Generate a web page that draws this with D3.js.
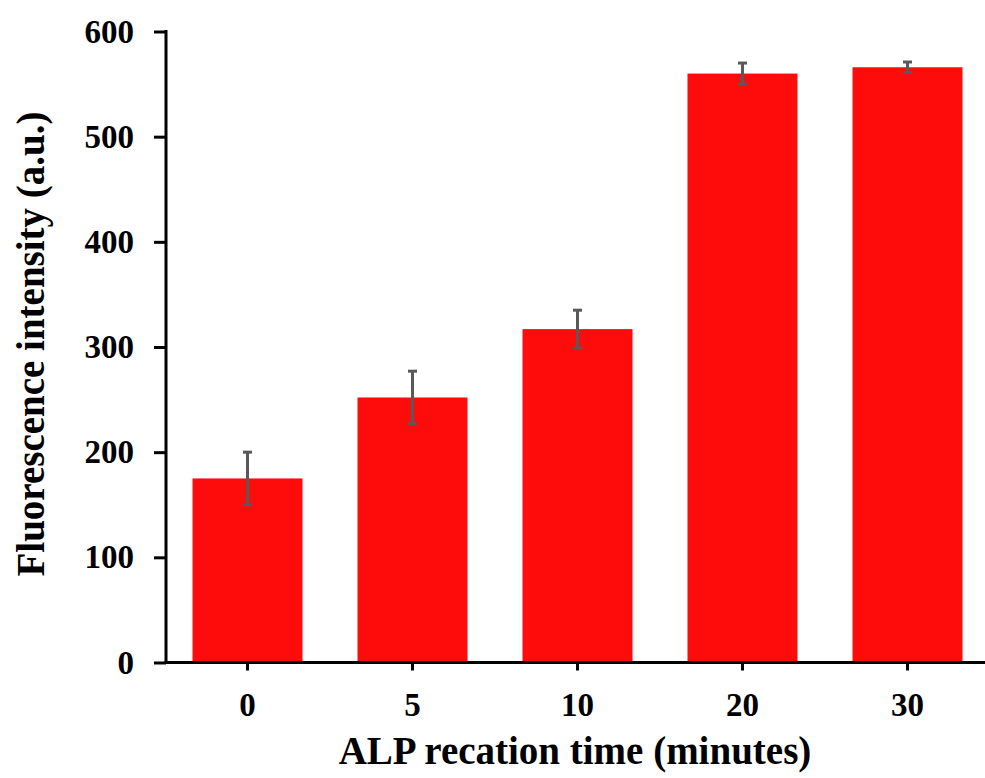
<!DOCTYPE html>
<html>
<head>
<meta charset="utf-8">
<script src="https://cdn.jsdelivr.net/npm/d3@7"></script>
<style>
  html, body { margin: 0; padding: 0; background: #fff; }
  svg { display: block; }
  .axis text { font-family: "Liberation Serif", "Times New Roman", serif; font-weight: bold; font-size: 33px; fill: #000; }
  .title { font-family: "Liberation Serif", "Times New Roman", serif; font-weight: bold; font-size: 39px; fill: #000; }
</style>
</head>
<body>
<svg id="chart" width="985" height="778"></svg>
<script>
// Reaction times (minutes) and measured fluorescence
const categories = ["0", "5", "10", "20", "30"];
const intensity = [175, 252, 317, 560, 566];
const errors = [25, 25, 18, 10, 5];
const yTicks = [0, 100, 200, 300, 400, 500, 600];

const svg = d3.select("#chart");
const W = 985, H = 778;

const x = d3.scaleBand()
  .domain(categories)
  .range([165, 990])
  .paddingInner(1 / 3)
  .paddingOuter(1 / 6);

const y = d3.scaleLinear()
  .domain([0, 600])
  .range([662.5, 31.5]);

const data = categories.map((c, i) => ({ c, v: intensity[i], e: errors[i] }));

// Bars
svg.append("g")
  .selectAll("rect")
  .data(data)
  .join("rect")
  .attr("x", d => x(d.c))
  .attr("y", d => y(d.v))
  .attr("width", x.bandwidth())
  .attr("height", d => y(0) - y(d.v))
  .attr("fill", "#fe0c0c");

// Error bars
const eb = svg.append("g")
  .attr("stroke", "#595959")
  .attr("stroke-width", 3);
const capW = 4.5;
data.forEach(d => {
  const cx = x(d.c) + x.bandwidth() / 2;
  eb.append("line").attr("x1", cx).attr("x2", cx).attr("y1", y(d.v + d.e)).attr("y2", y(d.v - d.e));
  eb.append("line").attr("x1", cx - capW).attr("x2", cx + capW).attr("y1", y(d.v + d.e)).attr("y2", y(d.v + d.e));
  eb.append("line").attr("x1", cx - capW).attr("x2", cx + capW).attr("y1", y(d.v - d.e)).attr("y2", y(d.v - d.e));
});

// Y axis
const yAxis = svg.append("g")
  .attr("class", "axis")
  .attr("transform", "translate(166,0)")
  .call(d3.axisLeft(y).tickValues(yTicks).tickSize(12).tickSizeOuter(0).tickPadding(20));

// X axis
const xAxis = svg.append("g")
  .attr("class", "axis")
  .attr("transform", `translate(0,${y(0)})`)
  .call(d3.axisBottom(x).tickSize(8).tickSizeOuter(0).tickPadding(22));

[yAxis, xAxis].forEach(a => {
  a.selectAll("line").attr("stroke", "#000").attr("stroke-width", 3);
  a.select(".domain").attr("stroke", "#000").attr("stroke-width", 3);
});
xAxis.select(".domain").attr("d", `M164.5,0H${W}`);
yAxis.select(".domain").attr("d", `M0,${y(0) + 1.5}V${y(600) - 1.5}`);

// Axis titles
svg.append("text")
  .attr("class", "title")
  .attr("x", 575)
  .attr("y", 764)
  .attr("text-anchor", "middle")
  .text("ALP recation time (minutes)");

svg.append("text")
  .attr("class", "title")
  .attr("transform", "translate(44,344) rotate(-90)")
  .attr("text-anchor", "middle")
  .text("Fluorescence intensity (a.u.)");
</script>
</body>
</html>
